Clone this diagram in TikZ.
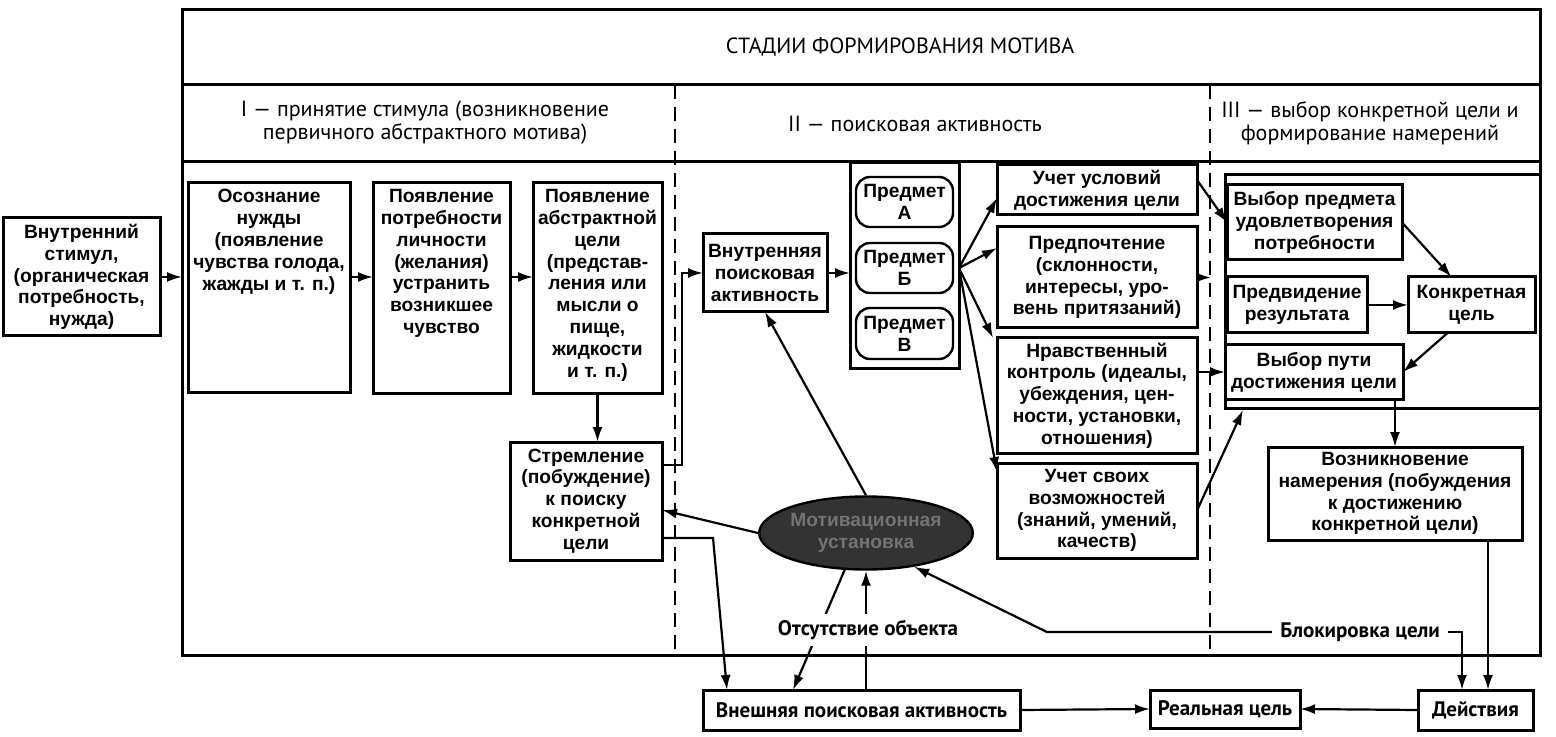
\documentclass[tikz,border=0pt]{standalone}
\usepackage{fontspec}
\setmainfont{Liberation Sans}
\newfontfamily\headfont{PT Sans}
\usetikzlibrary{positioning,shapes.geometric,arrows.meta}
\newcommand{\boxfont}{\fontsize{9.6}{10.9}\selectfont\bfseries}
\newcommand{\lowfont}{\headfont\fontsize{10.5}{11}\selectfont\bfseries}
\newcommand{\stagefont}{\headfont\fontsize{11}{11.5}\selectfont}

\begin{document}
\begin{tikzpicture}[x=0.5pt,y=-0.5pt,
    box/.style={draw,line width=1.5pt,align=center,inner sep=1pt,
                outer sep=0pt,font=\boxfont},
    boxtext/.style={align=center,inner sep=1pt,font=\boxfont},
    lowbox/.style={box,font=\lowfont},
    arr/.style={-{Latex[length=7.5pt,width=5pt]},line width=1.1pt},
    stage/.style={align=center,font=\stagefont}]

  \useasboundingbox (0,0) rectangle (1556,737);

  \draw [line width=1.5pt] (182,10) rectangle (1540,655);
  \draw [line width=1.5pt] (182,85) -- (1540,85);
  \draw [line width=1.5pt] (182,162) -- (1540,162);
  \draw [line width=1.2pt,dash pattern=on 7pt off 4pt] (675,85) -- (675,655);
  \draw [line width=1.2pt,dash pattern=on 7pt off 4pt] (1210,85) -- (1210,655);
  \draw [line width=1.5pt] (1225,175) rectangle (1540,408);
  \coordinate (frameLeft) at (182,277);

  \node [stage] at (900,47) {СТАДИИ ФОРМИРОВАНИЯ МОТИВА};
  \node [stage] at (425,123) {I — принятие стимула (возникновение
    \\ первичного абстрактного мотива)};
  \node [stage] at (915,124) {II — поисковая активность};
  \node [stage] at (1370,123) {III — выбор конкретной цели и
    \\ формирование намерений};

  % stage I
  \node (stimul) [box,minimum width=78.5pt,minimum height=59pt] at (81.5,277)
        {Внутренний\\стимул,\\(органическая\\потребность,\\нужда)};

  \node (awareness) [box,minimum width=81pt,minimum height=104.5pt] at (269,287.5) {};
  \node [boxtext,anchor=north] at ([yshift=-2pt]awareness.north)
        {Осознание\\нужды\\(появление\\чувства голода,\\жажды и т. п.)};

  \node (needPers) [box,minimum width=68.5pt,minimum height=105pt] at (441.5,288) {};
  \node [boxtext,anchor=north] at ([yshift=-2pt]needPers.north)
        {Появление\\потребности\\личности\\(желания)\\устранить\\возникшее\\чувство};

  \node (abstrGoal) [box,minimum width=64.5pt,minimum height=105pt] at (597.5,288) {};
  \node [boxtext,anchor=north] at ([yshift=-2pt]abstrGoal.north)
        {Появление\\абстрактной\\цели\\(представ-\\ления или\\мысли о\\пище,\\жидкости\\и т. п.)};

  \node (striving) [box,minimum width=76pt,minimum height=59pt] at (586,501)
        {Стремление\\(побуждение)\\к поиску\\конкретной\\цели};

  % stage II
  \node (innerSearch) [box,minimum width=62pt,minimum height=39pt] at (765,273)
        {Внутренняя\\поисковая\\активность};

  \node (objCol) [box,minimum width=54.5pt,minimum height=102.5pt] at (904.5,265.5) {};
  \node (objA) [box,rounded corners=7pt,line width=1.2pt,minimum width=48.5pt,
                minimum height=25pt] at (904.5,202) {Предмет\\А};
  \node (objB) [box,rounded corners=7pt,line width=1.2pt,minimum width=48.5pt,
                minimum height=25pt] at (904.5,268) {Предмет\\Б};
  \node (objV) [box,rounded corners=7pt,line width=1.2pt,minimum width=48.5pt,
                minimum height=25.5pt] at (904.5,333.5) {Предмет\\В};

  \node (condGoal) [box,minimum width=100pt,minimum height=25pt] at (1097,190)
        {Учет условий\\достижения цели};
  \node (prefer) [box,minimum width=100pt,minimum height=50.5pt] at (1097,277.5)
        {Предпочтение\\(склонности,\\интересы, уро-\\вень притязаний)};
  \node (moral) [box,minimum width=100pt,minimum height=57.5pt] at (1097,395.5)
        {Нравственный\\контроль (идеалы,\\убеждения, цен-\\ности, установки,\\отношения)};
  \node (ability) [box,minimum width=100pt,minimum height=47.5pt] at (1097,510.5)
        {Учет своих\\возможностей\\(знаний, умений,\\качеств)};

  \node (motSet) [ellipse,draw,line width=1.2pt,fill=black!80,text=black!55,
                  minimum width=96pt,minimum height=36.5pt,inner sep=0pt,
                  align=center,font=\boxfont] at (866,533)
        {Мотивационная\\установка};

  % stage III
  \node (choiceObj) [box,minimum width=87.5pt,minimum height=37.5pt] at (1314.5,222.5)
        {Выбор предмета\\удовлетворения\\потребности};
  \node (foresee) [box,minimum width=70pt,minimum height=28pt] at (1297,305)
        {Предвидение\\результата};
  \node (concrGoal) [box,minimum width=63.5pt,minimum height=28pt] at (1471.5,305)
        {Конкретная\\цель};
  \node (choicePath) [box,minimum width=89pt,minimum height=27pt] at (1314,372)
        {Выбор пути\\достижения цели};
  \node (intention) [box,minimum width=127pt,minimum height=46.5pt] at (1395,493.5)
        {Возникновение\\намерения (побуждения\\к достижению\\конкретной цели)};

  % bottom row
  \node (extSearch) [lowbox,minimum width=158.5pt,minimum height=20pt] at (861.5,710)
        {Внешняя поисковая активность};
  \node (realGoal) [lowbox,minimum width=75pt,minimum height=19pt] at (1225,709)
        {Реальная цель};
  \node (actions) [lowbox,minimum width=57.5pt,minimum height=20pt] at (1475.5,710)
        {Действия};

  \draw [arr] (stimul.east) -- (frameLeft);
  \draw [arr] (awareness.east |- stimul.east) -- (needPers.west |- stimul.east);
  \draw [arr] (needPers.east |- stimul.east) -- (abstrGoal.west |- stimul.east);
  \draw [arr] (abstrGoal.south) -- (abstrGoal.south |- striving.north);
  \draw [arr] (striving.north east) ++(0,23) -- ++(20,0) |- (innerSearch.west);
  \draw [arr] (innerSearch.east) -- (innerSearch.east -| objCol.west);

  \draw [arr] (objCol.east |- objB.east) -- ([yshift=-4pt]condGoal.west);
  \draw [arr] (objCol.east |- objB.east) -- ([yshift=14.75pt]prefer.west);
  \draw [arr] (objCol.east |- objB.east) -- ([xshift=-2pt]moral.north west);
  \draw [arr] (objCol.east |- objB.east) -- ([yshift=-4.5pt]ability.north west);

  \draw [arr] ([yshift=-7.5pt]condGoal.north east) -- (choiceObj.west);
  \draw [arr] (prefer.east) -- ++(14,0);
  \draw [arr] (choicePath.west -| moral.east) -- (choicePath.west);
  \draw [arr] (ability.east) -- (1243,410);

  \draw [arr] (choiceObj.east) -- ([xshift=-10pt]concrGoal.north);
  \draw [arr] (foresee.east) -- (concrGoal.west);
  \draw [arr] ([xshift=-12pt]concrGoal.south) -- (choicePath.east);
  \draw [arr] (intention.north |- choicePath.south) -- (intention.north);
  \draw [arr] ([xshift=46.5pt]intention.south) -- ([xshift=46.5pt]intention.south |- actions.north);

  \draw [arr] (motSet.west) -- ([yshift=-4.5pt]striving.east);
  \draw [arr] (motSet.north) -- (innerSearch.south);
  \draw [arr] (striving.south east) ++(0,-22) -- ++(51,0)
        -- ([xshift=12pt]extSearch.north west);
  \draw [arr] (motSet.240) -- ([xshift=45pt]extSearch.north west);
  \draw [arr] (motSet.south |- extSearch.north) -- (motSet.south);

  \node (absent) [align=center,font=\lowfont,fill=white,inner sep=3pt] at (868,630)
        {Отсутствие объекта};
  \node (blocking) [align=center,font=\lowfont,inner sep=4pt] at (1360,632)
        {Блокировка цели};

  \draw [arr] (blocking.west) -- ++(-225,0) -- (motSet.-35);
  \draw [arr] (blocking.east) -| ([xshift=-6.75pt]actions.north);

  \draw [arr] (extSearch.east) -- (realGoal.west);
  \draw [arr] (actions.west) -- (realGoal.east);

\end{tikzpicture}
\end{document}
